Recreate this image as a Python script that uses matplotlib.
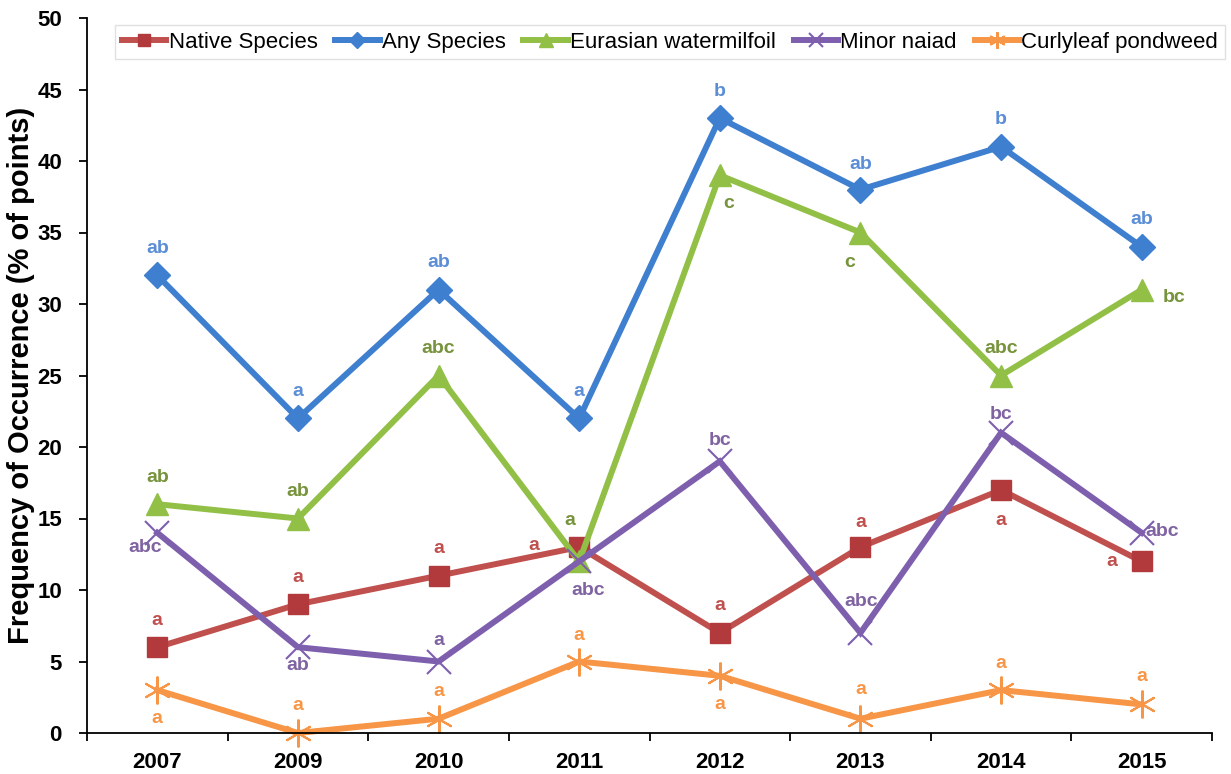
import matplotlib
matplotlib.use("Agg")
import matplotlib.pyplot as plt
import numpy as np

plt.rcParams['font.family'] = ['Liberation Sans', 'DejaVu Sans']

years = ["2007", "2009", "2010", "2011", "2012", "2013", "2014", "2015"]

native = [6, 9, 11, 13, 7, 13, 17, 12]
any_species = [32, 22, 31, 22, 43, 38, 41, 34]
eurasian = [16, 15, 25, 12, 39, 35, 25, 31]
minor_naiad = [14, 6, 5, 12, 19, 7, 21, 14]
curlyleaf = [3, 0, 1, 5, 4, 1, 3, 2]

native_letters = ["a", "a", "a", "a", "a", "a", "a", "a"]
any_letters = ["ab", "a", "ab", "a", "b", "ab", "b", "ab"]
eurasian_letters = ["ab", "ab", "abc", "a", "c", "c", "abc", "bc"]
naiad_letters = ["abc", "ab", "a", "abc", "bc", "abc", "bc", "abc"]
curly_letters = ["a", "a", "a", "a", "a", "a", "a", "a"]

# label offsets in pixels (dx, dy), positive dy is up
native_off = [(0, 27), (0, 27), (0, 27), (-45, 2), (0, 27), (0, 25), (0, -31), (-30, 0)]
any_off = [(0, 27), (0, 27), (0, 27), (0, 27), (0, 27), (0, 25), (0, 27), (0, 27)]
eur_off = [(0, 27), (0, 27), (0, 27), (-9, 41), (9, -28), (-11, -30), (0, 27), (32, -8)]
naiad_off = [(-12, -15), (0, -18), (0, 21), (9, -29), (0, 21), (1, 31), (0, 18), (20, 1)]
curly_off = [(0, -28), (0, 27), (0, 27), (0, 26), (0, -29), (0, 29), (0, 27), (0, 28)]

x = np.arange(len(years))

fig = plt.figure(figsize=(12.31, 7.74), dpi=100)
ax = fig.add_axes([87 / 1231, 1 - 733 / 774, (1212 - 87) / 1231, (733 - 18) / 774])

series = [
    ("Native Species", native, native_letters, native_off, "#c0504d", "#b23a3c", "s", 15, "#c0504d"),
    ("Any Species", any_species, any_letters, any_off, "#3f7fcf", "#3f7fcf", "D", 13, "#5b8ed6"),
    ("Eurasian watermilfoil", eurasian, eurasian_letters, eur_off, "#92c047", "#92c047", "^", 16, "#77933c"),
    ("Minor naiad", minor_naiad, naiad_letters, naiad_off, "#7d5fae", "#7d5fae", "x", 17, "#8064a2"),
    ("Curlyleaf pondweed", curlyleaf, curly_letters, curly_off, "#f79646", "#f79646", (6, 2, 0), 20, "#f79646"),
]

for name, vals, letters, offs, col, mcol, mk, ms, tcol in series:
    ax.plot(x, vals, color=col, lw=4.3, marker=mk, ms=ms, mfc=mcol, mec=mcol,
            mew=1.5 if mk in ("x",) or isinstance(mk, tuple) else 1, label=name,
            solid_joinstyle='miter', clip_on=False)
    for xi, v, t, (dx, dy) in zip(x, vals, letters, offs):
        ax.annotate(t, (xi, v), xytext=(dx, dy), textcoords='offset pixels',
                    ha='center', va='center', fontsize=14, fontweight='bold', color=tcol)

ax.set_xlim(-0.5, len(years) - 0.5)
ax.set_ylim(0, 50)
ax.set_yticks(np.arange(0, 51, 5))
ax.set_xticks(x)
ax.set_xticklabels(years)
ax.set_xticks(np.arange(-0.5, len(years)), minor=True)
ax.tick_params(axis='x', which='major', length=0, pad=14, labelsize=16)
ax.tick_params(axis='x', which='minor', length=6, width=1.3, direction='out')
ax.tick_params(axis='y', length=6, width=1.3, pad=12, labelsize=16)
for lab in ax.get_xticklabels() + ax.get_yticklabels():
    lab.set_fontweight('bold')

ax.spines['top'].set_visible(False)
ax.spines['right'].set_visible(False)
ax.spines['left'].set_linewidth(1.3)
ax.spines['bottom'].set_linewidth(1.3)

ax.set_ylabel("Frequency of Occurrence (% of points)", fontsize=21, fontweight='bold')
ax.yaxis.set_label_coords(-(87 - 35) / 1125, 0.5)

leg = ax.legend(loc='upper center', bbox_to_anchor=(670 / 1231, 1 - 14 / 774),
                bbox_transform=fig.transFigure, ncol=5, fontsize=16, frameon=True,
                fancybox=False, edgecolor='#d9d9d9', markerscale=0.6,
                handlelength=2.0, handletextpad=0.1, columnspacing=0.8,
                borderpad=0.3)
leg.get_frame().set_linewidth(1.0)

fig.savefig("out.png", dpi=100, facecolor='white')
